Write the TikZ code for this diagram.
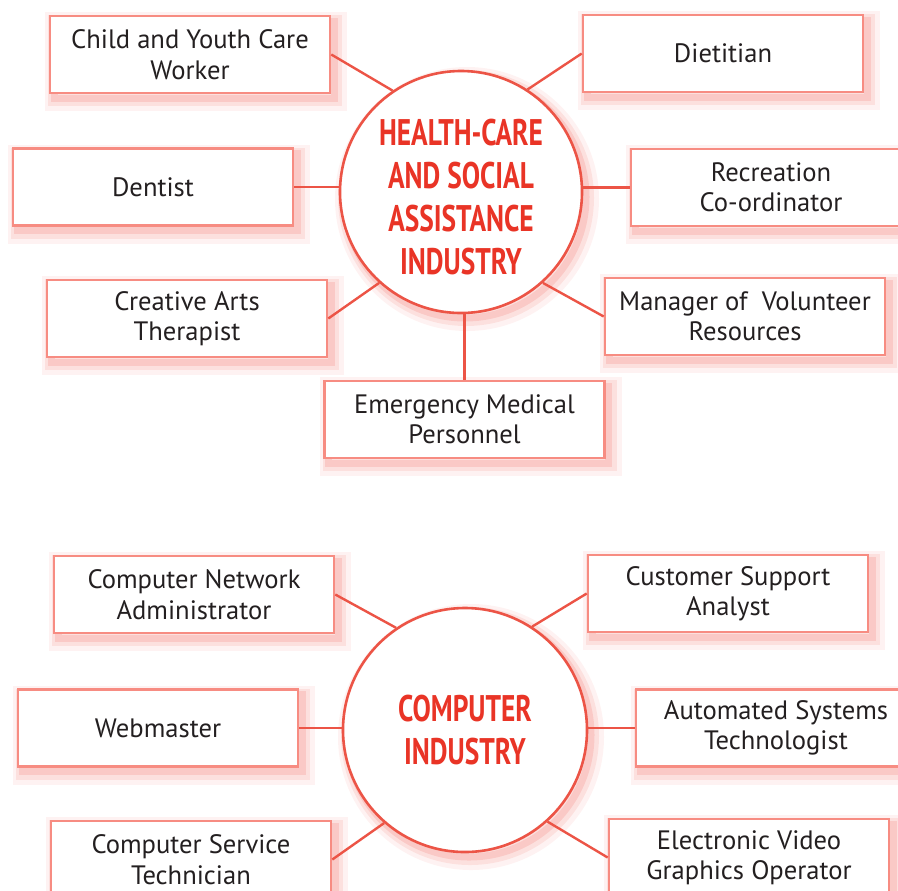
\documentclass[tikz,border=0pt]{standalone}
\usepackage{fontspec}
\setmainfont{PT Sans}
\newfontfamily\headfont[FakeStretch=0.74]{PT Sans}
\usetikzlibrary{positioning}
\definecolor{boxline}{RGB}{247,140,130}
\definecolor{ringline}{RGB}{236,84,70}
\definecolor{headred}{RGB}{233,52,38}
\definecolor{glowred}{RGB}{240,95,85}
\definecolor{ink}{RGB}{35,31,32}
\tikzset{
  haze/.style={
    preaction={draw=glowred, draw opacity=0.08, line width=11pt, transform canvas={shift={(3pt,-3.5pt)}}},
    preaction={draw=glowred, draw opacity=0.12, line width=7pt, transform canvas={shift={(2.5pt,-3pt)}}},
    preaction={draw=glowred, draw opacity=0.18, line width=3.5pt, transform canvas={shift={(2pt,-2.5pt)}}}},
  jobbox/.style={haze, rectangle, draw=boxline, line width=1.3pt, fill=white,
    minimum width=140pt, minimum height=38.5pt, inner sep=0pt, align=center,
    text=ink, font=\fontsize{13.3}{15.2}\selectfont},
  hub/.style={haze, circle, draw=ringline, line width=1.3pt, fill=white,
    minimum size=#1, inner sep=0pt, align=center, text=headred,
    font=\headfont\bfseries\fontsize{18.5}{21.5}\selectfont},
  link/.style={draw=ringline, line width=1.2pt}
}
\begin{document}
\begin{tikzpicture}[x=0.5pt, y=-0.5pt]
\useasboundingbox (0,0) rectangle (898,890);
\node[hub=121pt] (health) at (461,192) {\rule{0pt}{18pt}HEALTH-CARE\\AND SOCIAL\\ASSISTANCE\\INDUSTRY};
\node[jobbox] (child) at (190,54.5) {Child and Youth Care\\Worker};
\node[jobbox] (diet) at (723,53.5) {Dietitian};
\node[jobbox] (dentist) at (153,187) {Dentist};
\node[jobbox] (recreation) at (771,187.5) {Recreation\\Co-ordinator};
\node[jobbox] (arts) at (187,318.5) {Creative Arts\\Therapist};
\node[jobbox] (volunteer) at (745,316.5) {Manager of~ Volunteer\\Resources};
\node[jobbox] (emergency) at (464.5,419.5) {Emergency Medical\\Personnel};
\draw[link] (child.east) -- (health.124);
\draw[link] (diet.west) -- (health.57);
\draw[link] (dentist.east) -- (dentist.east -| health.west);
\draw[link] (recreation.west) -- (recreation.west -| health.east);
\draw[link] (arts.east) -- (health.228);
\draw[link] (volunteer.west) -- (health.312);
\draw[link] (emergency.north) -- (emergency.north |- health.south);

\node[hub=122pt] (computer) at (465,730) {COMPUTER\\INDUSTRY};
\node[jobbox] (network) at (194,594.5) {Computer Network\\Administrator};
\node[jobbox] (support) at (728,593.5) {Customer Support\\Analyst};
\node[jobbox] (webmaster) at (158,728) {Webmaster};
\node[jobbox] (automated) at (776,728) {Automated Systems\\Technologist};
\node[jobbox] (service) at (191,859.5) {Computer Service\\Technician};
\node[jobbox] (video) at (749,857.5) {Electronic Video\\Graphics Operator};
\draw[link] (network.east) -- (computer.124);
\draw[link] (support.west) -- (computer.57);
\draw[link] (webmaster.east) -- (webmaster.east -| computer.west);
\draw[link] (automated.west) -- (automated.west -| computer.east);
\draw[link] (service.east) -- (computer.229);
\draw[link] (video.west) -- (computer.312);
\end{tikzpicture}
\end{document}
